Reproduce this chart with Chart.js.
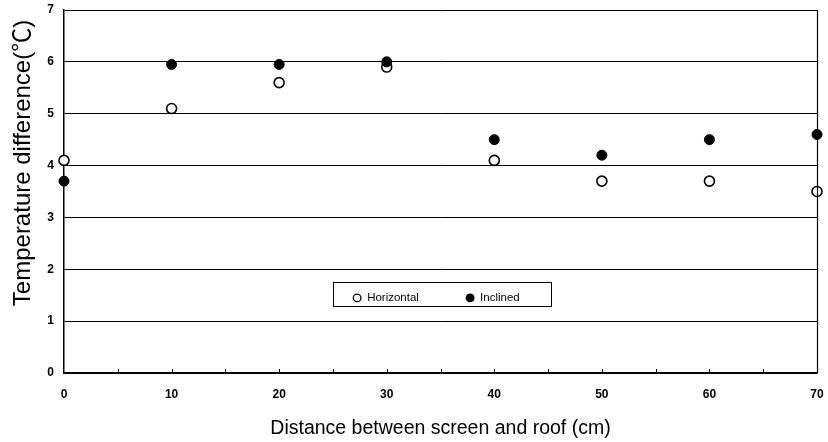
<!DOCTYPE html>
<html>
<head>
<meta charset="utf-8">
<script src="https://cdn.jsdelivr.net/npm/chart.js@4.4.1/dist/chart.umd.min.js"></script>
<style>
  html, body { margin: 0; padding: 0; background: #ffffff; }
  #wrap { width: 828px; height: 442px; }
</style>
</head>
<body>
<div id="wrap"><canvas id="c" width="828" height="442"></canvas></div>
<script>
// ---- data ----
const distances = [0, 10, 20, 30, 40, 50, 60, 70];
const horizontal = [4.1, 5.1, 5.6, 5.9, 4.1, 3.7, 3.7, 3.5];
const inclined = [3.7, 5.95, 5.95, 6.0, 4.5, 4.2, 4.5, 4.6];
const seriesNames = ['Horizontal', 'Inclined'];
const xTitle = 'Distance between screen and roof (cm)';
const yTitle = 'Temperature difference(\u2103)';

const toPoints = (xs, ys) => xs.map((x, i) => ({ x: x, y: ys[i] }));

const frameAndLegend = {
  id: 'frameAndLegend',
  afterDraw(chart) {
    const ctx = chart.ctx;
    const a = chart.chartArea;
    const xs = chart.scales.x;
    const ys = chart.scales.y;
    ctx.save();
    // right border
    ctx.strokeStyle = '#000';
    ctx.lineWidth = 1.2;
    ctx.beginPath();
    ctx.moveTo(Math.round(a.right) + 0.5, a.top);
    ctx.lineTo(Math.round(a.right) + 0.5, a.bottom);
    ctx.stroke();
    // small inward tick marks on x axis every 5
    ctx.lineWidth = 1;
    for (let v = 5; v < 70; v += 5) {
      const px = Math.round(xs.getPixelForValue(v)) + 0.5;
      ctx.beginPath();
      ctx.moveTo(px, a.bottom);
      ctx.lineTo(px, a.bottom - 4);
      ctx.stroke();
    }
    // y axis title (rotated, centred a little above the axis middle as in the reference)
    ctx.save();
    ctx.translate(23, ys.getPixelForValue(4.05));
    ctx.rotate(-Math.PI / 2);
    ctx.font = '24px "Liberation Sans", "Noto Sans CJK SC", Arial, sans-serif';
    ctx.fillStyle = '#000';
    ctx.textAlign = 'center';
    ctx.textBaseline = 'middle';
    ctx.fillText(yTitle, 0, 0);
    ctx.restore();
    // legend box
    const l = xs.getPixelForValue(25.0), r = xs.getPixelForValue(45.3);
    const t = ys.getPixelForValue(1.76), b = ys.getPixelForValue(1.29);
    ctx.fillStyle = '#fff';
    ctx.fillRect(l, t, r - l, b - t);
    ctx.lineWidth = 1;
    ctx.strokeStyle = '#000';
    ctx.strokeRect(Math.round(l) + 0.5, Math.round(t) + 0.5, Math.round(r - l), Math.round(b - t));
    const cy = (t + b) / 2 + 4;
    ctx.font = '11.5px "Liberation Sans", Arial, sans-serif';
    ctx.textBaseline = 'middle';
    ctx.textAlign = 'left';
    const items = [
      { x: xs.getPixelForValue(27.25), ds: chart.data.datasets[0] },
      { x: xs.getPixelForValue(37.75), ds: chart.data.datasets[1] }
    ];
    items.forEach(it => {
      ctx.beginPath();
      ctx.arc(it.x, cy, 3.8, 0, Math.PI * 2);
      ctx.fillStyle = it.ds.pointBackgroundColor;
      ctx.fill();
      ctx.lineWidth = 1.3;
      ctx.strokeStyle = '#000';
      ctx.stroke();
      ctx.fillStyle = '#000';
      ctx.fillText(it.ds.label, it.x + 10, cy);
    });
    ctx.restore();
  }
};

new Chart(document.getElementById('c'), {
  type: 'scatter',
  data: {
    datasets: [
      {
        label: seriesNames[0],
        data: toPoints(distances, horizontal),
        pointRadius: 5,
        pointHoverRadius: 5,
        pointBackgroundColor: '#ffffff',
        pointBorderColor: '#000000',
        pointBorderWidth: 1.6,
        clip: false,
        order: 2
      },
      {
        label: seriesNames[1],
        data: toPoints(distances, inclined),
        pointRadius: 5,
        pointHoverRadius: 5,
        pointBackgroundColor: '#000000',
        pointBorderColor: '#000000',
        pointBorderWidth: 1,
        clip: false,
        order: 1
      }
    ]
  },
  plugins: [frameAndLegend],
  options: {
    responsive: false,
    animation: false,
    events: [],
    layout: { padding: { top: 10, right: 11, left: 0, bottom: 0 } },
    plugins: {
      legend: { display: false },
      tooltip: { enabled: false }
    },
    scales: {
      x: {
        type: 'linear',
        min: 0, max: 70,
        afterFit(scale) { scale.height = 69; scale.paddingLeft = 0; scale.paddingRight = 0; },
        border: { display: true, color: '#000', width: 1.5 },
        grid: { display: false, drawTicks: false },
        ticks: {
          stepSize: 5,
          autoSkip: false,
          maxRotation: 0,
          padding: 14,
          color: '#000',
          font: { family: '"Liberation Sans", Arial, sans-serif', size: 12, weight: 'bold' },
          callback: v => (v % 10 === 0 ? String(v) : '')
        },
        title: {
          display: true,
          text: xTitle,
          color: '#000',
          font: { family: '"Liberation Sans", Arial, sans-serif', size: 19.5 },
          padding: { top: 0, bottom: 2 }
        }
      },
      y: {
        min: 0, max: 7,
        afterFit(scale) { scale.width = 64; scale.paddingTop = 0; scale.paddingBottom = 0; },
        border: { display: true, color: '#000', width: 1.5 },
        grid: { display: true, color: '#000', lineWidth: 1, drawTicks: false },
        ticks: {
          stepSize: 1,
          padding: 10,
          color: '#000',
          font: { family: '"Liberation Sans", Arial, sans-serif', size: 12, weight: 'bold' }
        },
        title: { display: false }
      }
    }
  }
});
</script>
</body>
</html>
